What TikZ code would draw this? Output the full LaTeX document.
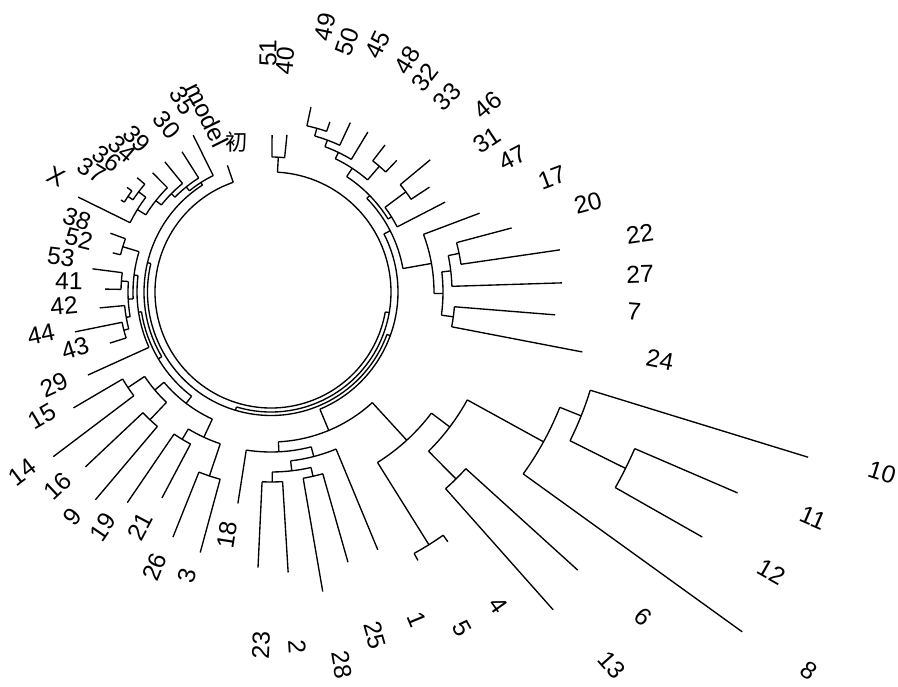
\documentclass[tikz,border=0pt]{standalone}
\usepackage{fontspec}
\setmainfont{Liberation Sans}
\newfontfamily\cjk{Noto Sans CJK SC}

\tikzset{
  lab/.style={font=\fontsize{21}{21}\selectfont, inner sep=0pt},
  twig/.style={line width=1.15pt},
}

\begin{document}
\begin{tikzpicture}[x=0.03cm, y=0.03cm]
\useasboundingbox (0,0) rectangle (898,686);

% fan tree, centre of the circle
\begin{scope}[shift={(271,394)}, twig]
  % tips: angle / parent radius / tip radius
  \foreach \a/\ri/\ro in {109/116/134, 116.4/130/175, 122.4/135/166, 129.2/140/168,
      134.8/147/168, 139.5/166/176, 144/172/178, 148.5/172/176, 153.8/157/215,
      159.9/155/171, 166.1/155/163, 172.6/150/180, 179/150/166, 185.3/147/172,
      191.5/152/200, 197.6/152/169, 204.4/134/201, 210.4/172/229, 217.1/172/273,
      223.3/176/255, 229.8/176/272, 235.7/172/255, 242.1/172/233, 248.2/194/264,
      254.8/194/270, 261.1/160/214, 267.3/190/276, 273.5/190/281, 279.8/189/304,
      285.9/189/281, 292.5/170/279, 298.7/298/306, 305.3/298/306, 311.6/263/425,
      317.8/263/414, 324.2/311/581, 330.4/396/496, 336.7/396/508, 342.9/334/562,
      349.1/184/317, 355.4/184/285, 361.8/181/291, 368.3/192/292, 374.9/192/249,
      380.7/163/223, 387.3/142/196, 393.5/168/190, 399.7/168/207, 406.3/166/182,
      412.2/166/186, 418.8/155/187, 424.9/162/187, 430.9/170/180, 437.8/170/189,
      444.2/135/158, 449.6/135/157}
    \draw (\a:\ri) -- (\a:\ro);
  % inner stems
  \foreach \a/\ri/\ro in {146.25/166/172, 142.88/157/166, 148.34/147/157,
      141.57/140/147, 135.38/135/140, 128.89/130/135, 122.65/127/130,
      194.55/147/152, 189.93/143/147, 175.8/143/150, 182.86/138/143, 163/138/155,
      172.93/134/138, 251.5/160/194, 238.9/160/172, 245.2/140/160, 226.55/152/176,
      213.75/152/172, 220.15/140/152, 232.68/131/140, 270.4/180/190, 282.85/180/189,
      276.63/170/180, 284.56/160/170, 272.83/150/160, 333.55/334/396,
      338.23/311/334, 331.2/224/311, 314.7/224/263, 322.95/201/224, 302/201/298,
      312.48/150/201, 292.65/127/150, 371.6/181/192, 366.7/172/181,
      352.25/172/184, 359.48/163/172, 370.09/134/163, 434.35/162/170,
      429.63/155/162, 424.21/148/155, 409.25/148/166, 416.73/138/148,
      396.6/142/168, 391.95/138/142, 404.34/134/138, 387.2/127/134,
      446.9/120/135, 188.67/131/134, 210.67/127/131, 166.66/123.5/127,
      339.9/123.5/127, 253.28/120/123.5, 350.09/116/120}
    \draw (\a:\ri) -- (\a:\ro);
  % arcs: radius / from / to
  \foreach \r/\s/\e in {116/109/350.09, 120/253.28/446.9, 123.5/166.66/339.9,
      127/122.65/210.67, 127/292.65/387.2, 131/188.67/232.68, 134/172.93/204.4,
      130/116.4/128.89, 135/122.4/135.38, 140/129.2/141.57, 147/134.8/148.34,
      157/142.88/153.8, 166/139.5/146.25, 172/144/148.5,
      138/163/182.86, 155/159.9/166.1, 143/175.8/189.93, 150/172.6/179,
      147/185.3/194.55, 152/191.5/197.6,
      140/220.15/245.2, 152/213.75/226.55, 172/210.4/217.1, 176/223.3/229.8,
      160/238.9/251.5, 172/235.7/242.1, 194/248.2/254.8,
      150/272.83/312.48, 160/261.1/284.56, 170/276.63/292.5, 180/270.4/282.85,
      189/279.8/285.9, 190/267.3/273.5,
      201/302/322.95, 298/298.7/305.3, 224/314.7/331.2, 263/311.6/317.8,
      311/324.2/338.23, 334/333.55/342.9, 396/330.4/336.7,
      134/370.09/404.34, 163/359.48/380.7, 172/352.25/366.7, 184/349.1/355.4,
      181/361.8/371.6, 192/368.3/374.9,
      138/391.95/416.73, 142/387.3/396.6, 168/393.5/399.7, 148/409.25/424.21,
      166/406.3/412.2, 155/418.8/429.63, 162/424.9/434.35, 170/430.9/437.8,
      135/444.2/449.6}
    \draw (\s:\r) arc[start angle=\s, end angle=\e, radius=\r];
\end{scope}

% tip labels
\node[lab, rotate=89.6] (t51) at (268,633) {51};
\node[lab, rotate=84.2] (t40) at (285,625) {40};
\node[lab, rotate=77.8] (t49) at (325,659) {49};
\node[lab, rotate=70.9] (t50) at (347,644) {50};
\node[lab, rotate=64.9] (t45) at (378,641) {45};
\node[lab, rotate=58.8] (t48) at (407,626) {48};
\node[lab, rotate=52.2] (t32) at (425,609) {32};
\node[lab, rotate=46.3] (t33) at (447,589) {33};
\node[lab, rotate=39.7] (t46) at (488,581) {46};
\node[lab, rotate=33.5] (t31) at (487,546) {31};
\node[lab, rotate=27.3] (t47) at (513,528) {47};
\node[lab, rotate=20.7] (t17) at (552,508) {17};
\node[lab, rotate=14.9] (t20) at (588,483) {20};
\node[lab, rotate=8.3] (t22) at (640,452) {22};
\node[lab, rotate=1.8] (t27) at (640,412) {27};
\node[lab, rotate=-4.6] (t7) at (634,374) {7};
\node[lab, rotate=-10.9] (t24) at (660,326) {24};
\node[lab, rotate=-17.1] (t10) at (882,214) {10};
\node[lab, rotate=-23.3] (t11) at (813,168) {11};
\node[lab, rotate=-29.6] (t12) at (772,114) {12};
\node[lab, rotate=-35.8] (t8) at (809,15) {8};
\node[lab, rotate=-42.2] (t6) at (643,69) {6};
\node[lab, rotate=-48.4] (t13) at (612,21) {13};
\node[lab, rotate=-54.7] (t4) at (498,81) {4};
\node[lab, rotate=-61.3] (t5) at (462,58) {5};
\node[lab, rotate=-67.5] (t1) at (417,66) {1};
\node[lab, rotate=-74.1] (t25) at (375,51) {25};
\node[lab, rotate=-80.2] (t28) at (342,21) {28};
\node[lab, rotate=-86.5] (t2) at (297,39) {2};
\node[lab, rotate=87.3] (t23) at (261,41) {23};
\node[lab, rotate=81.1] (t18) at (227,151) {18};
\node[lab, rotate=74.8] (t3) at (187,110) {3};
\node[lab, rotate=68.2] (t26) at (155,119) {26};
\node[lab, rotate=62.1] (t21) at (140,160) {21};
\node[lab, rotate=55.7] (t19) at (103,159) {19};
\node[lab, rotate=49.8] (t9) at (72,169) {9};
\node[lab, rotate=43.3] (t16) at (58,200) {16};
\node[lab, rotate=37.1] (t14) at (22,214) {14};
\node[lab, rotate=30.4] (t15) at (42,270) {15};
\node[lab, rotate=24.4] (t29) at (54,301) {29};
\node[lab, rotate=17.6] (t43) at (75,338) {43};
\node[lab, rotate=11.5] (t44) at (41,352) {44};
\node[lab, rotate=5.3] (t42) at (64,380) {42};
\node[lab, rotate=-1] (t41) at (69,405) {41};
\node[lab, rotate=-7.4] (t53) at (61,429) {53};
\node[lab, rotate=-13.9] (t52) at (79,447) {52};
\node[lab, rotate=-20.1] (t38) at (77,467) {38};
\node[lab, rotate=-26.2] (tX) at (56,509) {X};
\node[lab, rotate=-31.5] (t37) at (92,516) {37};
\node[lab, rotate=-36] (t36) at (107,527) {36};
\node[lab, rotate=-40.5] (t34) at (122,537) {34};
\node[lab, rotate=-45.2] (t39) at (137,547) {39};
\node[lab, rotate=-50.8] (t30) at (167,561) {30};
\node[lab, rotate=-57.6] (t35) at (183,585) {35};
\node[lab, rotate=-63.6] (tmodel) at (207,571) {model};
\node[lab, font=\fontsize{19}{19}\cjk] (tchu) at (237,544) {初};
\end{tikzpicture}
\end{document}
